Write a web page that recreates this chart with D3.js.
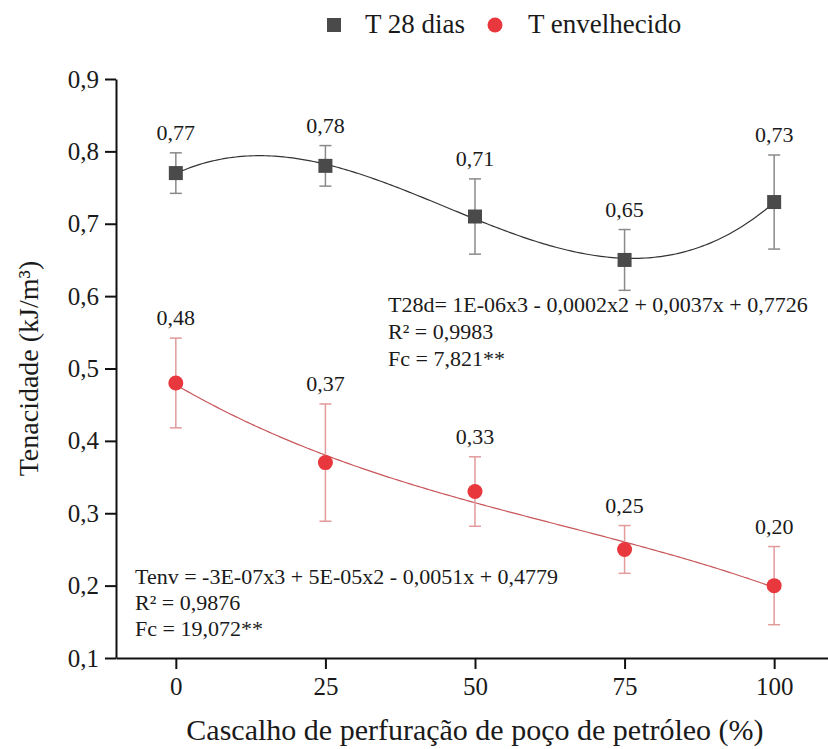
<!DOCTYPE html>
<html>
<head>
<meta charset="utf-8">
<script src="https://cdn.jsdelivr.net/npm/d3@7"></script>
<style>
    body { margin: 0; background: #fff; }
    .axis path, .axis line { stroke: #111; stroke-width: 2; }
</style>
</head>
<body>
<div id="chart"></div>
<script>
// Cascalho (%) on the x axis
var doses = [0, 25, 50, 75, 100];

// Tenacidade after 28 days and after ageing, with their error bars
var t28 = [0.77, 0.78, 0.71, 0.65, 0.73];
var t28Err = [0.028, 0.028, 0.052, 0.042, 0.065];
var tEnv = [0.48, 0.37, 0.33, 0.25, 0.20];
var tEnvErr = [0.062, 0.081, 0.048, 0.033, 0.054];

var xTicks = [0, 25, 50, 75, 100];
var yTicks = [0.1, 0.2, 0.3, 0.4, 0.5, 0.6, 0.7, 0.8, 0.9];

var eq28 = ['T28d= 1E-06x3 - 0,0002x2 + 0,0037x + 0,7726', 'R\u00b2 = 0,9983', 'Fc = 7,821**'];
var eqEnv = ['Tenv = -3E-07x3 + 5E-05x2 - 0,0051x + 0,4779', 'R\u00b2 = 0,9876', 'Fc = 19,072**'];

var width = 828,
    height = 749,
    margin = {top: 79, right: 0, left: 116, bottom: 91};

var xScale = d3.scaleLinear().domain([-10, 109]).range([margin.left, width - margin.right]);
var yScale = d3.scaleLinear().domain([0.1, 0.9]).range([height - margin.bottom, margin.top]);

var comma = function(fmt) {
    return function(d) { return d3.format(fmt)(d).replace('.', ','); };
};

// all text in Times-like serif
function serif(sel, size) {
    return sel.style('font-family', '"Liberation Serif"')
        .style('font-size', size + 'px')
        .attr('fill', '#1a1a1a');
}

// least squares cubic through the points (x scaled to 0..1 to keep it stable)
function cubicFit(xs, ys) {
    var n = 4, A = [], b = [];
    for (var i = 0; i < n; i++) {
        A.push([]);
        b.push(d3.sum(xs, function(x, k) { return ys[k] * Math.pow(x / 100, i); }));
        for (var j = 0; j < n; j++) {
            A[i].push(d3.sum(xs, function(x) { return Math.pow(x / 100, i + j); }));
        }
    }
    for (var c = 0; c < n; c++) {
        for (var r = c + 1; r < n; r++) {
            var f = A[r][c] / A[c][c];
            for (var k = c; k < n; k++) A[r][k] -= f * A[c][k];
            b[r] -= f * b[c];
        }
    }
    var coef = new Array(n);
    for (var r2 = n - 1; r2 >= 0; r2--) {
        var s = b[r2];
        for (var k2 = r2 + 1; k2 < n; k2++) s -= A[r2][k2] * coef[k2];
        coef[r2] = s / A[r2][r2];
    }
    return function(x) {
        var u = x / 100;
        return coef[0] + coef[1] * u + coef[2] * u * u + coef[3] * u * u * u;
    };
}

var svg = d3.select('#chart').append('svg')
    .attr('width', width)
    .attr('height', height);

// Axes
var xAxis = d3.axisBottom(xScale).tickValues(xTicks).tickSize(11).tickSizeOuter(0).tickPadding(8);
var yAxis = d3.axisLeft(yScale).tickValues(yTicks).tickSize(11).tickSizeOuter(0).tickPadding(6)
    .tickFormat(comma('.1f'));

svg.append('g')
    .attr('class', 'axis x-axis')
    .attr('transform', 'translate(0,' + yScale(0.1) + ')')
    .call(xAxis)
    .selectAll('text')
    .call(serif, 25);

svg.append('g')
    .attr('class', 'axis y-axis')
    .attr('transform', 'translate(' + margin.left + ',0)')
    .call(yAxis)
    .selectAll('text')
    .call(serif, 25);

// Axis titles
svg.append('text')
    .attr('x', xScale(50))
    .attr('y', 740)
    .attr('text-anchor', 'middle')
    .call(serif, 30)
    .text('Cascalho de perfuração de poço de petróleo (%)');

svg.append('text')
    .attr('transform', 'translate(38,' + yScale(0.5) + ') rotate(-90)')
    .attr('text-anchor', 'middle')
    .call(serif, 28)
    .text('Tenacidade (kJ/m\u00b3)');

// Draw one series: fitted curve, error bars, markers and value labels
function drawSeries(values, errs, opts) {
    var g = svg.append('g').attr('class', opts.cls);
    var fit = cubicFit(doses, values);
    var line = d3.line()
        .x(function(d) { return xScale(d); })
        .y(function(d) { return yScale(fit(d)); });

    g.append('path')
        .attr('d', line(d3.range(0, 100.5, 0.5)))
        .attr('fill', 'none')
        .attr('stroke', opts.lineColor)
        .attr('stroke-width', 1.2);

    var bars = g.selectAll('.err').data(doses).enter().append('g').attr('class', 'err');
    bars.append('line')
        .attr('x1', function(d) { return xScale(d); })
        .attr('x2', function(d) { return xScale(d); })
        .attr('y1', function(d, i) { return yScale(values[i] + errs[i]); })
        .attr('y2', function(d, i) { return yScale(values[i] - errs[i]); });
    bars.append('line')
        .attr('x1', function(d) { return xScale(d) - 6; })
        .attr('x2', function(d) { return xScale(d) + 6; })
        .attr('y1', function(d, i) { return yScale(values[i] + errs[i]); })
        .attr('y2', function(d, i) { return yScale(values[i] + errs[i]); });
    bars.append('line')
        .attr('x1', function(d) { return xScale(d) - 6; })
        .attr('x2', function(d) { return xScale(d) + 6; })
        .attr('y1', function(d, i) { return yScale(values[i] - errs[i]); })
        .attr('y2', function(d, i) { return yScale(values[i] - errs[i]); });
    bars.selectAll('line')
        .attr('stroke', opts.errColor)
        .attr('stroke-width', 1.5);

    if (opts.shape === 'square') {
        g.selectAll('.pt').data(doses).enter().append('rect')
            .attr('class', 'pt')
            .attr('x', function(d) { return xScale(d) - 7; })
            .attr('y', function(d, i) { return yScale(values[i]) - 7; })
            .attr('width', 14)
            .attr('height', 14)
            .attr('fill', opts.color);
    } else {
        g.selectAll('.pt').data(doses).enter().append('circle')
            .attr('class', 'pt')
            .attr('cx', function(d) { return xScale(d); })
            .attr('cy', function(d, i) { return yScale(values[i]); })
            .attr('r', 7.5)
            .attr('fill', opts.color);
    }

    g.selectAll('.val').data(doses).enter().append('text')
        .attr('class', 'val')
        .attr('x', function(d) { return xScale(d); })
        .attr('y', function(d, i) { return yScale(values[i] + errs[i]) - 13; })
        .attr('text-anchor', 'middle')
        .call(serif, 22)
        .text(function(d, i) { return comma('.2f')(values[i]); });
}

drawSeries(t28, t28Err, {cls: 's28', shape: 'square', color: '#4a4a4a', lineColor: '#333', errColor: '#8a8a8a'});
drawSeries(tEnv, tEnvErr, {cls: 'senv', shape: 'circle', color: '#e8383d', lineColor: '#c8575a', errColor: '#e29a9b'});

// Regression equations
svg.append('g').selectAll('text').data(eq28).enter().append('text')
    .attr('x', 388)
    .attr('y', function(d, i) { return 312 + i * 27; })
    .call(serif, 22)
    .text(function(d) { return d; });

svg.append('g').selectAll('text').data(eqEnv).enter().append('text')
    .attr('x', 135)
    .attr('y', function(d, i) { return 584 + i * 26; })
    .call(serif, 22)
    .text(function(d) { return d; });

// Legend
var legend = svg.append('g').attr('class', 'legend');
legend.append('rect')
    .attr('x', 327).attr('y', 18)
    .attr('width', 14).attr('height', 14)
    .attr('fill', '#4a4a4a');
legend.append('text')
    .attr('x', 365).attr('y', 33)
    .call(serif, 27)
    .text('T 28 dias');
legend.append('circle')
    .attr('cx', 495).attr('cy', 25)
    .attr('r', 7.5)
    .attr('fill', '#e8383d');
legend.append('text')
    .attr('x', 528).attr('y', 33)
    .call(serif, 27)
    .text('T envelhecido');
</script>
</body>
</html>
